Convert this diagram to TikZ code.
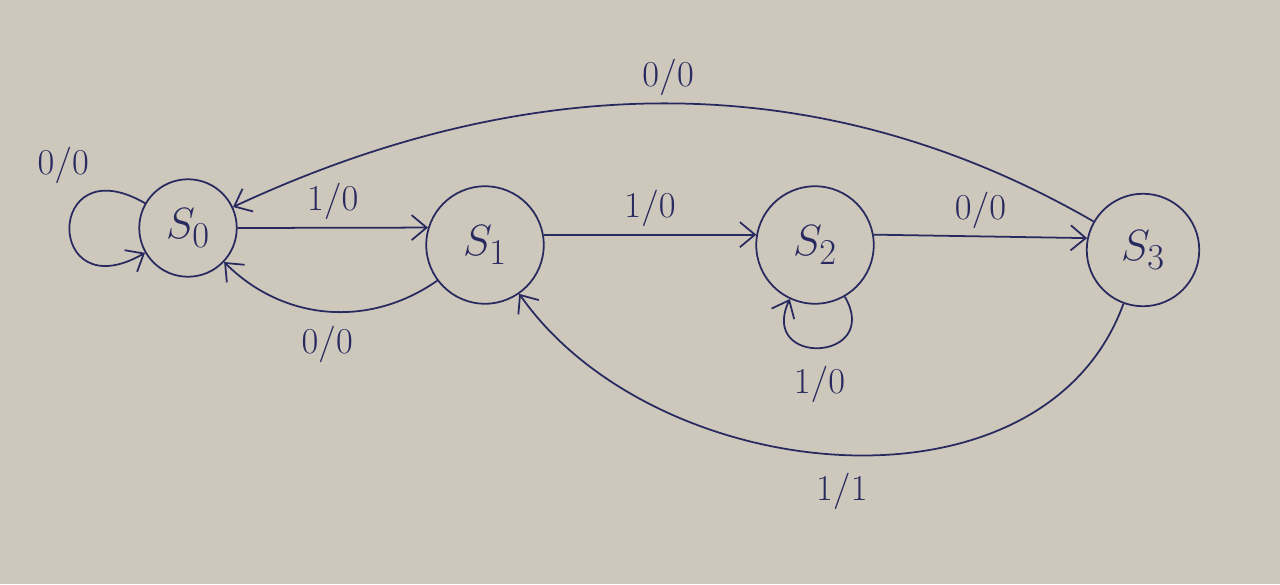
\documentclass[tikz,border=0pt]{standalone}
\usepackage{amsmath,amssymb}
\usepackage{tikz}
\usetikzlibrary{arrows.meta}
\definecolor{ink}{RGB}{40,42,95}
\definecolor{paper}{RGB}{206,199,188}

\begin{document}
\begin{tikzpicture}[state_node/.style={circle,draw,inner sep=2pt, minimum size=2.35cm, font=\Huge},
    trans/.style={-{Straight Barb[length=3mm,width=5mm]}},
    io_label/.style={font=\huge, inner sep=4pt},
    ink, line width=1pt]
    \fill[paper] (0,0) rectangle (25.6,11.68);
    \useasboundingbox (0,0) rectangle (25.6,11.68);

	\node[state_node, minimum size=1.95cm] (s0) at (3.76, 7.12) {$S_0$};
	\node[state_node] (s1) at (9.7, 6.78) {$S_1$};
	\node[state_node] (s2) at (16.3, 6.78) {$S_2$};
	\node[state_node, minimum size=2.25cm] (s3) at (22.86, 6.68) {$S_3$};

\draw[trans] (s0) to[out=150, in=210, looseness=6] node[io_label, pos=0.2, above left] {$0/0$} (s0);
\draw[trans] (s0.east) -- node[io_label, above] {$1/0$} (s1.163);
\draw[trans] (s1) to[bend left=40] node[io_label, below=4pt] {$0/0$} (s0);
\draw[trans] (s1.10) -- node[io_label, above] {$1/0$} (s2.170);
\draw[trans] (s2) to[out=-60, in=-115, looseness=3.5] node[io_label, below=6pt] {$1/0$} (s2);
\draw[trans] (s2.10) -- node[io_label, above] {$0/0$} (s3.168);
\draw[trans] (s3) to[out=150, in=25, looseness=0.95] node[io_label, above] {$0/0$} (s0);
\draw[trans] (s3) to[out=-110, in=-55, looseness=1.0] node[io_label, below=6pt] {$1/1$} (s1);

\end{tikzpicture}
\end{document}
